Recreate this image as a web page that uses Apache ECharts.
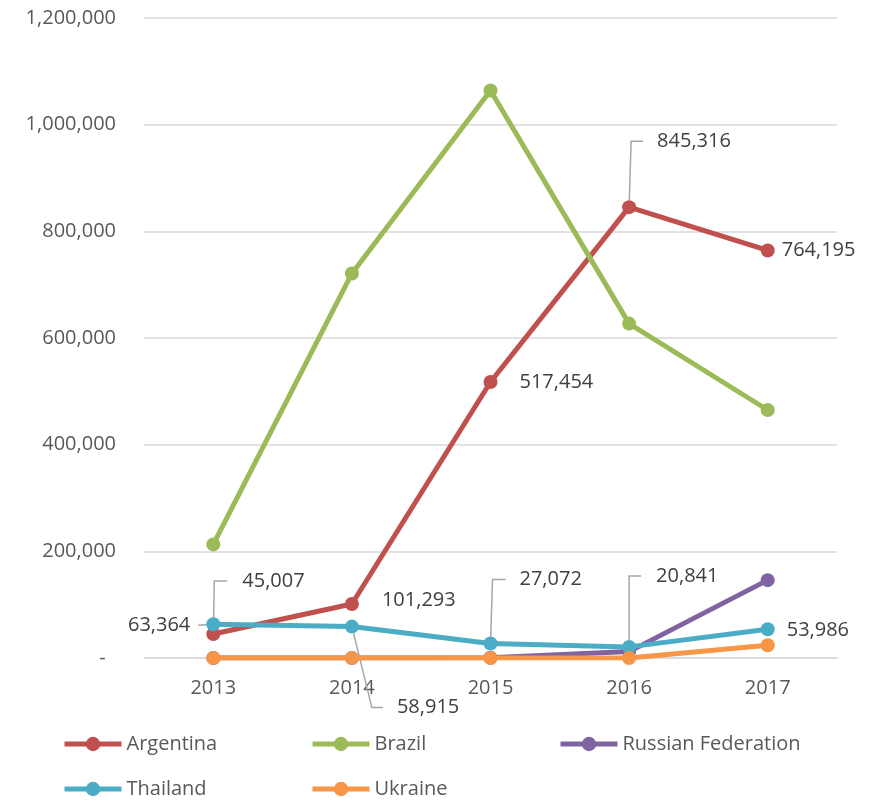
<!DOCTYPE html>
<html>
<head>
<meta charset="utf-8">
<script src="https://cdn.jsdelivr.net/npm/echarts@6/dist/echarts.min.js"></script>
<style>
  html, body { margin: 0; padding: 0; background: #fff; }
  #chart { width: 881px; height: 801px; }
</style>
</head>
<body>
<div id="chart"></div>
<script>
var years = ["2013", "2014", "2015", "2016", "2017"];
var yTicks = [0, 200000, 400000, 600000, 800000, 1000000, 1200000];

var argentina = [45007, 101293, 517454, 845316, 764195];
var brazil = [213000, 721000, 1064000, 627000, 465000];
var russia = [0, 0, 500, 12000, 146000];
var thailand = [63364, 58915, 27072, 20841, 53986];
var ukraine = [0, 0, 0, 0, 24000];

var seriesNames = ["Argentina", "Brazil", "Russian Federation", "Thailand", "Ukraine"];

// label placement: [dx, dy, leader?, padding, length2]
var argLabelPos = [
  [2, -53, true, [2, 0, 0, 15], 13],
  [18, -4, false],
  [17, 0, false],
  [2, -66, true, [4, 0, 0, 14], 12],
  [2, 0, false]
];
var thaLabelPos = [
  [-3, 1, true, [0, 8, 0, 0], 0],
  [19, 81, true, [6, 0, 0, 14], 11],
  [3, -64, true, [2, 0, 0, 14], 13],
  [0, -71, true, [2, 40, 0, 15], 12],
  [7, 1, false]
];

var font = "'Open Sans', 'Noto Sans', sans-serif";

function fmt(v) {
  return v.toLocaleString("en-US");
}

function withLabels(values, pos, firstLeft) {
  return values.map(function (v, i) {
    var p = pos[i];
    var item = {
      value: v,
      label: { position: (firstLeft && i === 0) ? "left" : "right" },
      labelLine: { show: p[2] }
    };
    if (p[2]) {
      // invisible box so the padding counts for the leader line
      item.label.padding = p[3];
      item.label.backgroundColor = "rgba(255,255,255,0)";
      item.labelLine.length2 = p[4];
    }
    return item;
  });
}

function line(name, color, data, z) {
  return {
    name: name,
    type: "line",
    data: data,
    symbol: "circle",
    symbolSize: 14,
    z: z,
    lineStyle: { width: 5, color: color },
    itemStyle: { color: color }
  };
}

var chart = echarts.init(document.getElementById("chart"));

var labelStyle = {
  show: true,
  fontFamily: font,
  fontSize: 20,
  color: "#404040",
  formatter: function (p) { return fmt(p.value); }
};
var leader = {
  lineStyle: { color: "#a6a6a6", width: 1.5 }
};

var sArg = line(seriesNames[0], "#C0504D", withLabels(argentina, argLabelPos, false), 2);
sArg.label = labelStyle;
sArg.labelLine = leader;
sArg.labelLayout = function (p) {
  return { dx: argLabelPos[p.dataIndex][0], dy: argLabelPos[p.dataIndex][1] };
};

var sTha = line(seriesNames[3], "#4BACC6", withLabels(thailand, thaLabelPos, true), 5);
sTha.label = labelStyle;
sTha.labelLine = leader;
sTha.labelLayout = function (p) {
  return { dx: thaLabelPos[p.dataIndex][0], dy: thaLabelPos[p.dataIndex][1] };
};

// one legend per entry, laid out in a 3-column grid
var legends = seriesNames.map(function (name, i) {
  return {
    data: [name],
    left: 62 + (i % 3) * 248,
    top: 734 + Math.floor(i / 3) * 45,
    padding: 0,
    itemWidth: 57,
    itemHeight: 18,
    lineStyle: { width: 5 },
    textStyle: { fontFamily: font, fontSize: 20, color: "#595959" }
  };
});

chart.setOption({
  animation: false,
  textStyle: { fontFamily: font },
  grid: { left: 144, right: 44, top: 18, bottom: 143, containLabel: false },
  legend: legends,
  xAxis: {
    type: "category",
    data: years,
    boundaryGap: true,
    axisLine: { lineStyle: { color: "#d9d9d9", width: 1.5 } },
    axisTick: { show: false },
    axisLabel: { color: "#595959", fontSize: 20, fontFamily: font, margin: 20 }
  },
  yAxis: {
    type: "value",
    min: yTicks[0],
    max: yTicks[yTicks.length - 1],
    interval: yTicks[1] - yTicks[0],
    axisLine: { show: false },
    axisTick: { show: false },
    splitLine: { lineStyle: { color: "#d9d9d9", width: 1.5 } },
    axisLabel: {
      color: "#595959", fontSize: 20, fontFamily: font, margin: 28,
      formatter: function (v) { return v === 0 ? "-  " : fmt(v); }
    }
  },
  series: [
    sArg,
    line(seriesNames[1], "#9BBB59", brazil, 3),
    line(seriesNames[2], "#8064A2", russia, 4),
    sTha,
    line(seriesNames[4], "#F79646", ukraine, 6)
  ]
});
</script>
</body>
</html>
